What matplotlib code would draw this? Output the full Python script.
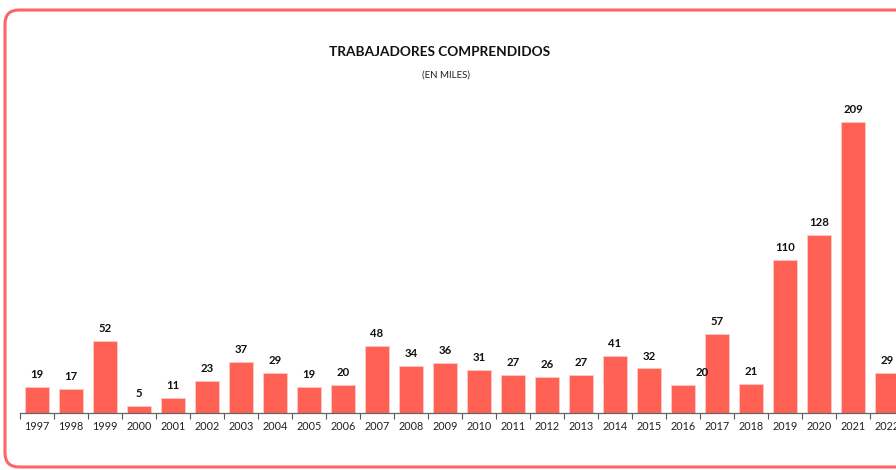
import matplotlib.pyplot as plt
from matplotlib.patches import FancyBboxPatch
from matplotlib.transforms import IdentityTransform

# data (thousands of workers)
years = [str(y) for y in range(1997, 2023)]
values = [19, 17, 52, 5, 11, 23, 37, 29, 19, 20, 48, 34, 36, 31, 27, 26, 27,
          41, 32, 20, 57, 21, 110, 128, 209, 29]
title = "TRABAJADORES COMPRENDIDOS"
subtitle = "(EN MILES)"

W, H = 896, 470
plt.rcParams['font.family'] = ['Lato', 'DejaVu Sans']
fig = plt.figure(figsize=(W / 100, H / 100), dpi=100)

# rounded frame in pixels, right side runs off the picture
frame = FancyBboxPatch((5, 3), 930, 457,
                       boxstyle="round,pad=0,rounding_size=14",
                       transform=IdentityTransform(), fill=False,
                       edgecolor="#FF6469", linewidth=2.2, clip_on=False)
fig.patches.append(frame)

# axes: x from 20px to 904px (26 categories), baseline at y=413
ax = fig.add_axes([20 / W, (H - 413) / H, 884 / W, 334 / H])
x = list(range(len(years)))
ax.bar(x, values, width=0.68, color="#FF6155", edgecolor="#FFC9C4", linewidth=0.6)
ax.set_xlim(-0.5, len(years) - 0.5)
ax.set_ylim(0, 240)

for i, v in enumerate(values):
    dx = 14 if years[i] == "2016" else 0
    ax.annotate(str(v), (i, v), xytext=(dx, 5), textcoords="offset points",
                ha="center", va="bottom", fontsize=8.2, fontweight="bold",
                color="#111111")

ax.set_xticks(x)
ax.set_xticklabels(years, fontsize=7.8, color="#222222")
ax.set_xticks([i - 0.5 for i in range(len(years) + 1)], minor=True)
ax.tick_params(axis="x", which="major", length=0, pad=6)
ax.tick_params(axis="x", which="minor", length=4, width=0.8, color="#555555")
ax.set_yticks([])
for s in ["top", "right", "left"]:
    ax.spines[s].set_visible(False)
ax.spines["bottom"].set_color("#666666")
ax.spines["bottom"].set_linewidth(0.9)

fig.text(440 / W, 1 - 52 / H, title, ha="center", va="center",
         fontsize=9.8, fontweight="bold", color="#111111")
fig.text(446 / W, 1 - 75 / H, subtitle, ha="center", va="center",
         fontsize=7, color="#222222")

fig.savefig("out.png", dpi=100)
